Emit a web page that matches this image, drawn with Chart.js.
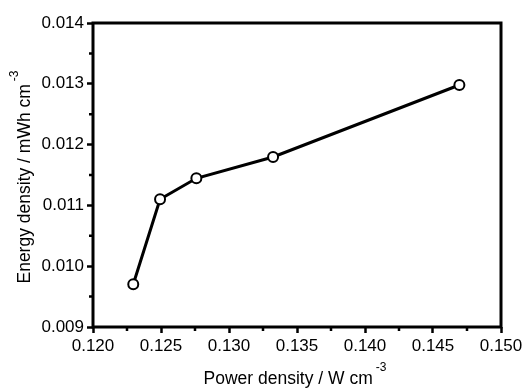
<!DOCTYPE html>
<html>
<head>
<meta charset="utf-8">
<script src="https://cdn.jsdelivr.net/npm/chart.js"></script>
<style>
  html, body { margin: 0; padding: 0; background: #fff; }
  #wrap { width: 530px; height: 390px; }
</style>
</head>
<body>
<div id="wrap"><canvas id="grafico" width="530" height="390"></canvas></div>
<script>
// datos
const powerDensity = [0.12296, 0.12493, 0.12760, 0.13324, 0.14694];
const energyDensity = [0.009702, 0.011100, 0.011446, 0.011796, 0.012980];
const xTicks = [0.120, 0.125, 0.130, 0.135, 0.140, 0.145, 0.150];
const yTicks = [0.009, 0.010, 0.011, 0.012, 0.013, 0.014];
const xTitle = "Power density / W cm";
const yTitle = "Energy density / mWh cm";
const titleSup = "-3";

const fuente = "Liberation Sans, Arial, sans-serif";

// marco, ticks menores y titulos de ejes
const extras = {
  id: "extras",
  afterDraw(chart) {
    const { ctx, chartArea: a, scales } = chart;
    ctx.save();
    ctx.strokeStyle = "#000";
    ctx.lineWidth = 3;
    ctx.strokeRect(a.left, a.top, a.right - a.left, a.bottom - a.top);

    // ticks menores
    ctx.lineWidth = 2.5;
    ctx.beginPath();
    for (let i = 0; i < xTicks.length - 1; i++) {
      const px = scales.x.getPixelForValue((xTicks[i] + xTicks[i + 1]) / 2);
      ctx.moveTo(px, a.bottom);
      ctx.lineTo(px, a.bottom + 4);
    }
    for (let i = 0; i < yTicks.length - 1; i++) {
      const py = scales.y.getPixelForValue((yTicks[i] + yTicks[i + 1]) / 2);
      ctx.moveTo(a.left, py);
      ctx.lineTo(a.left - 4, py);
    }
    ctx.stroke();

    // titulos
    const fMain = "17.5px " + fuente;
    const fSup = "12px " + fuente;
    ctx.fillStyle = "#000";
    ctx.textBaseline = "middle";
    ctx.textAlign = "left";
    ctx.font = fMain;
    const wx = ctx.measureText(xTitle).width;
    ctx.font = fSup;
    const wsx = ctx.measureText(titleSup).width;
    let x0 = 295 - (wx + wsx + 3) / 2;
    ctx.font = fMain;
    ctx.fillText(xTitle, x0, 379);
    ctx.font = fSup;
    ctx.fillText(titleSup, x0 + wx + 3, 368);

    ctx.translate(25, 0);
    ctx.rotate(-Math.PI / 2);
    ctx.font = fMain;
    const wy = ctx.measureText(yTitle).width;
    ctx.font = fSup;
    const wsy = ctx.measureText(titleSup).width;
    let y0 = -177 - (wy + wsy + 3) / 2;
    ctx.font = fMain;
    ctx.fillText(yTitle, y0, 0);
    ctx.font = fSup;
    ctx.fillText(titleSup, y0 + wy + 3, -10);
    ctx.restore();
  }
};

const ctx = document.getElementById("grafico").getContext("2d");
new Chart(ctx, {
  type: "scatter",
  data: {
    datasets: [
      {
        data: powerDensity.map((p, i) => ({ x: p, y: energyDensity[i] })),
        showLine: true,
        borderColor: "#000",
        borderWidth: 3,
        pointRadius: 5,
        pointBorderWidth: 2,
        pointBackgroundColor: "#fff",
        pointBorderColor: "#000",
      },
    ],
  },
  options: {
    responsive: false,
    animation: false,
    layout: { padding: { top: 23, right: 29, left: 0, bottom: 0 } },
    plugins: { legend: { display: false }, tooltip: { enabled: false } },
    scales: {
      x: {
        type: "linear",
        min: 0.12,
        max: 0.15,
        afterBuildTicks: (s) => { s.ticks = xTicks.map((v) => ({ value: v })); },
        afterFit: (s) => { s.height = 63; },
        border: { display: false },
        grid: { drawOnChartArea: false, drawTicks: true, tickLength: 6, tickWidth: 2.5, tickColor: "#000" },
        ticks: {
          color: "#000",
          padding: 3,
          maxRotation: 0,
          font: { family: fuente, size: 17 },
          callback: (v) => v.toFixed(3),
        },
      },
      y: {
        type: "linear",
        min: 0.009,
        max: 0.014,
        afterBuildTicks: (s) => { s.ticks = yTicks.map((v) => ({ value: v })); },
        afterFit: (s) => { s.width = 93; },
        border: { display: false },
        grid: { drawOnChartArea: false, drawTicks: true, tickLength: 6, tickWidth: 2.5, tickColor: "#000" },
        ticks: {
          color: "#000",
          padding: 3,
          font: { family: fuente, size: 17 },
          callback: (v) => v.toFixed(3),
        },
      },
    },
  },
  plugins: [extras],
});
</script>
</body>
</html>
